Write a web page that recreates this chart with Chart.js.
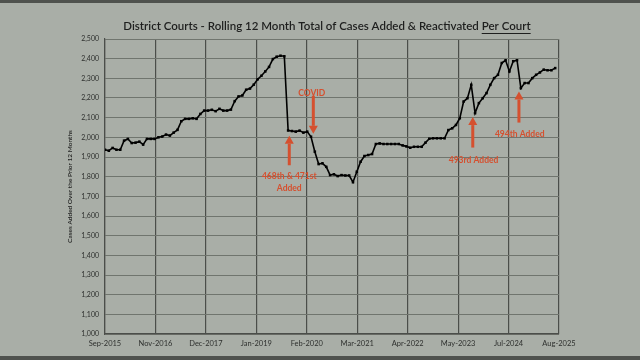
<!DOCTYPE html>
<html>
<head>
<meta charset="utf-8">
<script src="https://cdn.jsdelivr.net/npm/chart.js@4/dist/chart.umd.min.js"></script>
<style>
  html, body { margin: 0; padding: 0; background: #a9aea7; }
  canvas { display: block; }
</style>
</head>
<body>
<canvas id="chart" width="640" height="360"></canvas>
<script>
// rotulos do eixo x (9 divisoes iguais, Sep-2015 .. Aug-2025)
var xTickLabels = ['Sep-2015', 'Nov-2016', 'Dec-2017', 'Jan-2019', 'Feb-2020', 'Mar-2021', 'Apr-2022', 'May-2023', 'Jul-2024', 'Aug-2025'];
var lastMonthIndex = 119; // Sep-2015 = 0 ... Aug-2025 = 119

// total movel de 12 meses por corte, um valor por mes a partir de Sep-2015
var casesPerCourt = [
  1937, 1932, 1946, 1937, 1937, 1983, 1992, 1971, 1973, 1978,
  1963, 1992, 1992, 1992, 2000, 2004, 2014, 2009, 2024, 2038,
  2082, 2094, 2094, 2097, 2094, 2119, 2136, 2136, 2140, 2133,
  2145, 2136, 2136, 2141, 2184, 2208, 2213, 2242, 2248, 2268,
  2295, 2313, 2335, 2358, 2398, 2410, 2415, 2412, 2035, 2032,
  2029, 2034, 2024, 2029, 2003, 1927, 1864, 1868, 1850, 1808,
  1812, 1803, 1808, 1806, 1806, 1772, 1825, 1876, 1905, 1910,
  1915, 1966, 1969, 1966, 1966, 1966, 1966, 1966, 1959, 1954,
  1947, 1952, 1952, 1952, 1973, 1993, 1995, 1995, 1995, 1995,
  2037, 2046, 2063, 2097, 2182, 2199, 2267, 2123, 2174, 2199,
  2225, 2267, 2301, 2318, 2378, 2392, 2335, 2387, 2392, 2250,
  2276, 2276, 2301, 2318, 2330, 2344, 2341, 2341, 2352
];

// setas e textos vermelhos (em unidades de dados: mes e valor)
var arrows = [
  { month: 54.6, tail: 2211, tip: 2018 },  // COVID
  { month: 48.3, tail: 1858, tip: 2008 },  // 468th & 471st
  { month: 96.4, tail: 1948, tip: 2103 },  // 493rd
  { month: 108.5, tail: 2075, tip: 2233 }  // 494th
];
var notes = [
  { month: 54.2, value: 2226, text: 'COVID' },
  { month: 48.3, value: 1800, text: '468th & 471st' },
  { month: 48.3, value: 1741, text: 'Added' },
  { month: 96.6, value: 1885, text: '493rd Added' },
  { month: 108.7, value: 2018, text: '494th Added' }
];

var points = casesPerCourt.map(function (v, i) { return { x: i, y: v }; });
var red = '#d5502f';

// fundo, titulo sublinhado e anotacoes
var extras = {
  id: 'extras',
  beforeDraw: function (chart) {
    var c = chart.ctx;
    c.save();
    c.fillStyle = '#a9aea7';
    c.fillRect(0, 0, chart.width, chart.height);
    c.fillStyle = '#4f524e';
    c.fillRect(0, 0, chart.width, 3);
    c.fillRect(0, 356, chart.width, 4);
    c.restore();
  },
  afterDraw: function (chart) {
    var c = chart.ctx;
    var xs = chart.scales.x, ys = chart.scales.y;
    c.save();
    // titulo
    c.font = '600 11.5px Lato, "Liberation Sans", sans-serif';
    c.fillStyle = '#1e1f1e';
    c.textBaseline = 'middle';
    var part1 = 'District Courts - Rolling 12 Month Total of Cases Added & Reactivated ';
    var part2 = 'Per Court';
    var w1 = c.measureText(part1).width, w2 = c.measureText(part2).width;
    var x0 = 327 - (w1 + w2) / 2;
    c.fillText(part1, x0, 26);
    c.fillText(part2, x0 + w1, 26);
    c.fillRect(x0 + w1, 33, w2, 1);

    // setas
    c.fillStyle = red;
    c.strokeStyle = red;
    arrows.forEach(function (a) {
      var x = xs.getPixelForValue(a.month);
      var yt = ys.getPixelForValue(a.tail);
      var yp = ys.getPixelForValue(a.tip);
      var dir = yp < yt ? 1 : -1;
      var head = 8;
      c.lineWidth = 3;
      c.beginPath();
      c.moveTo(x, yt);
      c.lineTo(x, yp + dir * head);
      c.stroke();
      c.beginPath();
      c.moveTo(x, yp);
      c.lineTo(x - 4.5, yp + dir * head);
      c.lineTo(x + 4.5, yp + dir * head);
      c.closePath();
      c.fill();
    });
    // textos
    c.font = 'bold 8.5px Lato, "Liberation Sans", sans-serif';
    c.textAlign = 'center';
    notes.forEach(function (n) {
      c.fillText(n.text, xs.getPixelForValue(n.month), ys.getPixelForValue(n.value));
    });
    c.restore();
  }
};

var ctx = document.getElementById('chart').getContext('2d');
var chart = new Chart(ctx, {
  type: 'line',
  data: {
    datasets: [{
      data: points,
      borderColor: '#000',
      backgroundColor: '#000',
      borderWidth: 1.6,
      pointStyle: 'rect',
      pointRadius: 1.8,
      pointBorderWidth: 0,
      tension: 0
    }]
  },
  options: {
    responsive: false,
    animation: false,
    layout: { padding: { left: 62, right: 81, top: 39, bottom: 0 } },
    plugins: { legend: { display: false }, tooltip: { enabled: false } },
    scales: {
      x: {
        type: 'linear',
        min: 0,
        max: lastMonthIndex,
        afterBuildTicks: function (scale) {
          scale.ticks = xTickLabels.map(function (_, k) {
            return { value: lastMonthIndex * k / (xTickLabels.length - 1) };
          });
        },
        afterFit: function (scale) { scale.height = 26; },
        grid: { color: '#4b4e4a', lineWidth: 1.2, drawTicks: false },
        border: { color: '#4b4e4a', width: 1.2 },
        ticks: {
          autoSkip: false,
          maxRotation: 0,
          padding: 5,
          color: '#2e302e',
          font: { family: 'Lato, "Liberation Sans", sans-serif', size: 7.5 },
          callback: function (v, i) { return xTickLabels[i]; }
        }
      },
      y: {
        min: 1000,
        max: 2500,
        afterFit: function (scale) { scale.width = 43; },
        grid: { color: '#70756e', lineWidth: 1, drawTicks: false },
        border: { color: '#4b4e4a', width: 1.2 },
        ticks: {
          stepSize: 100,
          padding: 6,
          color: '#2e302e',
          font: { family: 'Lato, "Liberation Sans", sans-serif', size: 7 },
          callback: function (v) { return v.toLocaleString('en-US'); }
        },
        title: {
          display: true,
          text: 'Cases Added Over the Prior 12 Months',
          color: '#1e1f1e',
          font: { family: 'Lato, "Liberation Sans", sans-serif', size: 6.5, weight: '600' },
          padding: { top: 4, bottom: 0 }
        }
      }
    }
  },
  plugins: [extras]
});
</script>
</body>
</html>
